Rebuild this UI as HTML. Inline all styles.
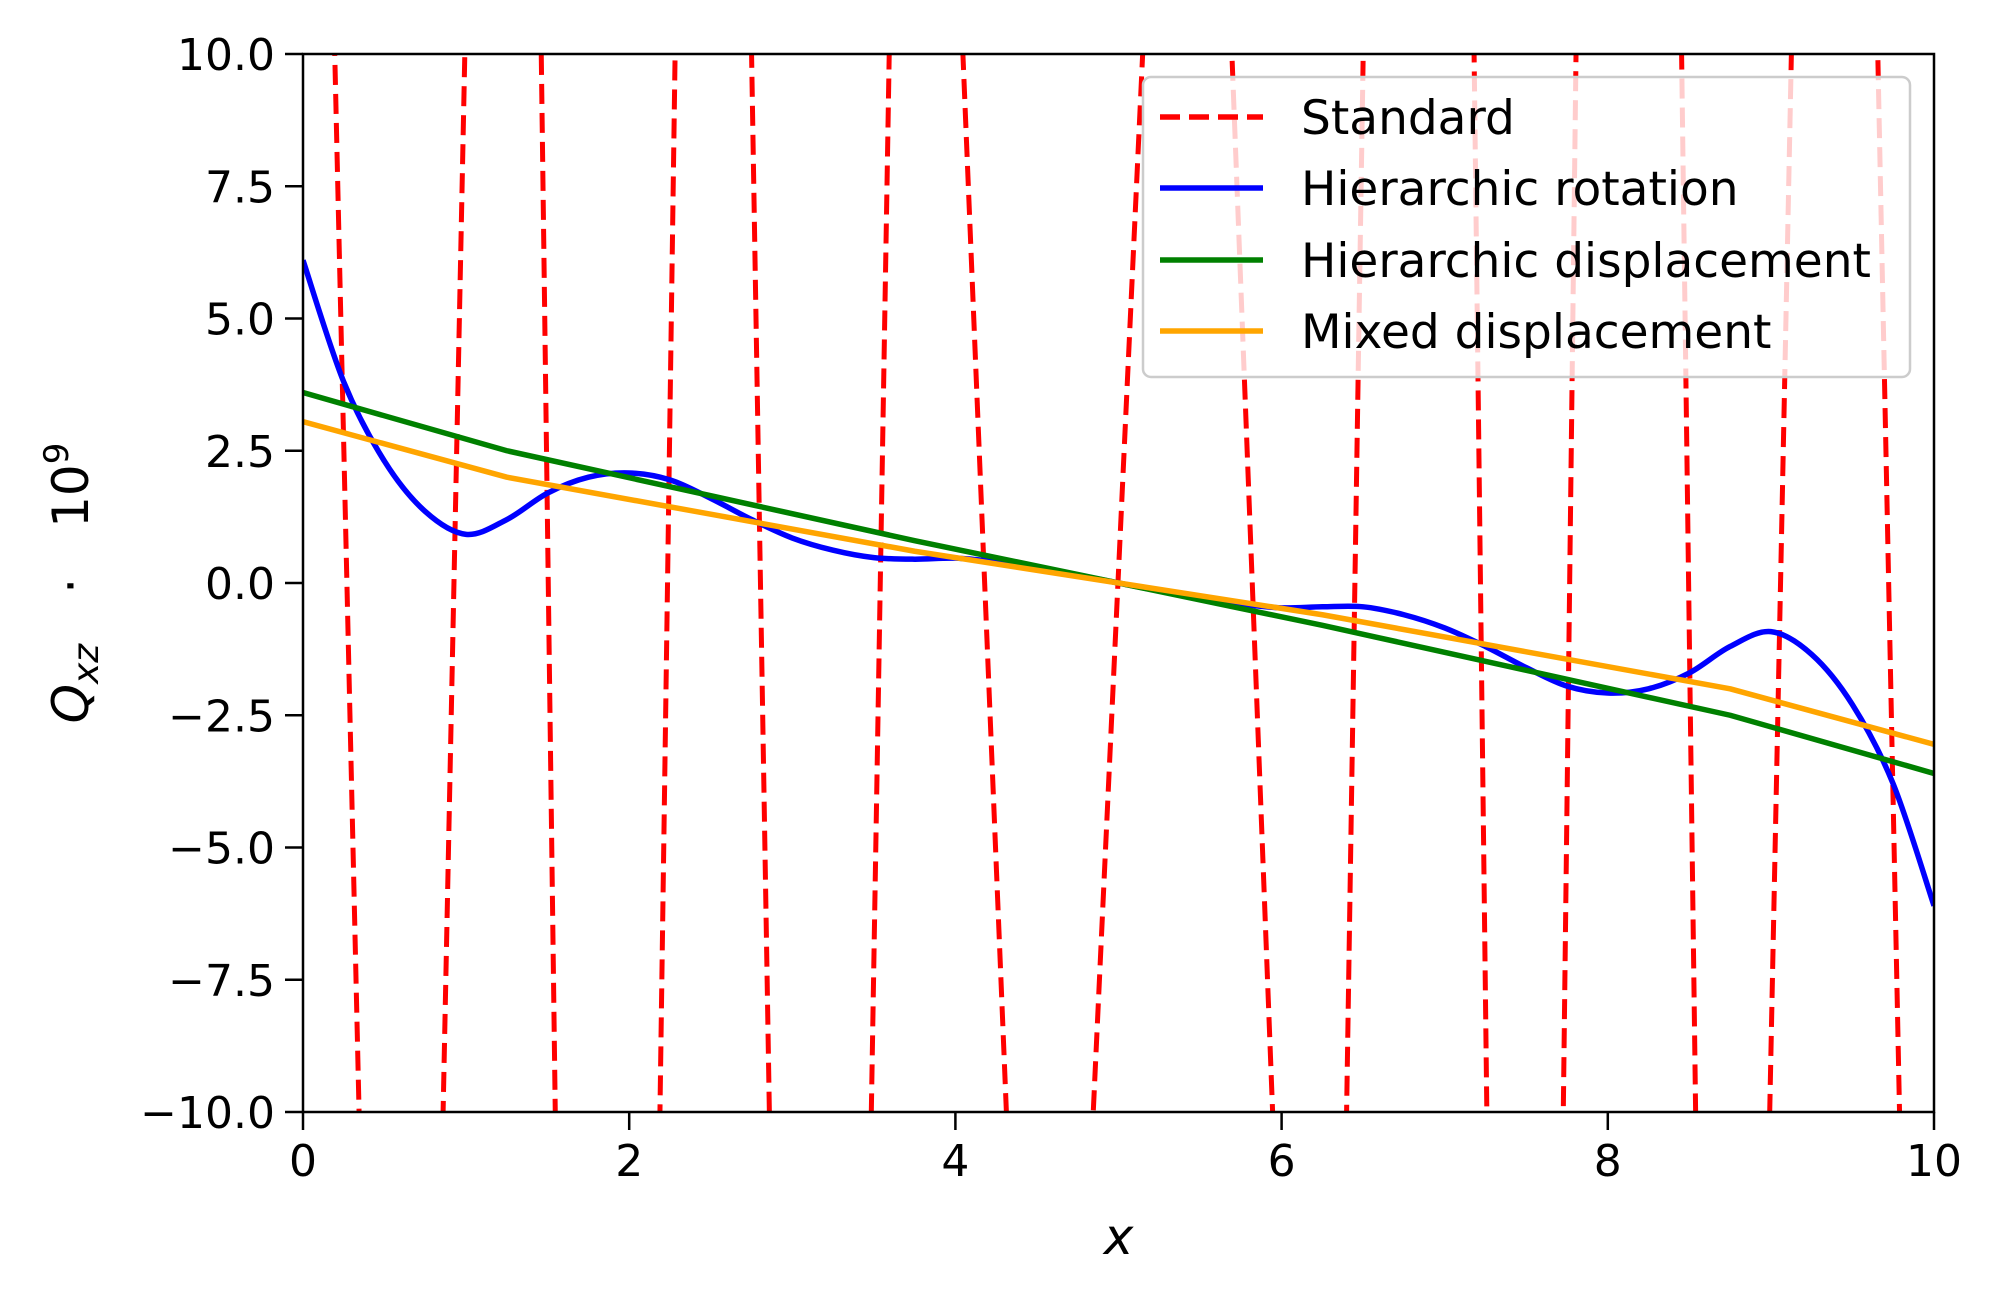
<!DOCTYPE html>
<html><head><meta charset="utf-8"><style>
html,body{margin:0;padding:0;background:#fff;width:2000px;height:1306px;overflow:hidden;}
svg{display:block;}
text{font-family:"DejaVu Sans","Liberation Sans",sans-serif;fill:#000;}
</style></head><body>
<svg id="chart" width="2000" height="1306" viewBox="0 0 2000 1306" xmlns="http://www.w3.org/2000/svg">
<rect x="0" y="0" width="2000" height="1306" fill="#fff"/>
<g id="series"></g>
<g id="axes"></g>
<g id="legend"></g>
</svg>
<script>
// ---- data ----
const xTicks = [0, 2, 4, 6, 8, 10];
const xTickLabels = ["0", "2", "4", "6", "8", "10"];
const yTicks = [10, 7.5, 5, 2.5, 0, -2.5, -5, -7.5, -10];
const yTickLabels = ["10.0", "7.5", "5.0", "2.5", "0.0", "\u22122.5", "\u22125.0", "\u22127.5", "\u221210.0"];

const standardX = [0, 0.616, 1.277, 1.855, 2.497, 3.171, 3.726, 4.562, 5.448, 6.267, 6.885, 7.493, 8.113, 8.717, 9.39, 10];
const standardY = [36.1, -46.5, 52.8, -81.8, 56.4, -67.1, 34.0, -28.7, 29.8, -35.8, 85.5, -70.0, 88.9, -51.5, 49.8, -41.7];

const rotationX = [0, 0.25, 0.5, 0.75, 1.0, 1.25, 1.5, 1.75, 2.0, 2.25, 2.5, 2.75, 3.0, 3.25, 3.5, 3.75, 4.0, 4.25, 4.5, 4.75, 5.0, 5.25, 5.5, 5.75, 6.0, 6.25, 6.5, 6.75, 7.0, 7.25, 7.5, 7.75, 8.0, 8.25, 8.5, 8.75, 9.0, 9.25, 9.5, 9.75, 10];
const rotationY = [6.1, 3.8, 2.3, 1.35, 0.92, 1.2, 1.7, 2.0, 2.08, 1.95, 1.6, 1.2, 0.85, 0.62, 0.48, 0.45, 0.47, 0.4, 0.3, 0.15, 0, -0.15, -0.3, -0.4, -0.47, -0.45, -0.45, -0.6, -0.85, -1.2, -1.6, -1.95, -2.08, -2.0, -1.7, -1.2, -0.92, -1.35, -2.3, -3.8, -6.1];

const hdispX = [0, 1.25, 2.5, 3.75, 5, 6.25, 7.5, 8.75, 10];
const hdispY = [3.6, 2.5, 1.65, 0.8, 0, -0.8, -1.65, -2.5, -3.6];

const mixedX = [0, 1.25, 2.5, 3.75, 5, 6.25, 7.5, 8.75, 10];
const mixedY = [3.05, 2.0, 1.3, 0.6, 0, -0.6, -1.3, -2.0, -3.05];

const legendLabels = ["Standard", "Hierarchic rotation", "Hierarchic displacement", "Mixed displacement"];

// ---- layout ----
const NS = "http://www.w3.org/2000/svg";
const L = 303, R = 1934, T = 54, B = 1112;
const xMin = 0, xMax = 10, yMin = -10, yMax = 10;
function sx(v){ return L + (v - xMin) / (xMax - xMin) * (R - L); }
function sy(v){ return B - (v - yMin) / (yMax - yMin) * (B - T); }
function mk(tag, attrs, parent){
  const e = document.createElementNS(NS, tag);
  for (const k in attrs) e.setAttribute(k, attrs[k]);
  parent.appendChild(e);
  return e;
}
const svg = document.getElementById('chart');
const defs = mk('defs', {}, svg);
const cp = mk('clipPath', {id: 'plotclip'}, defs);
mk('rect', {x: L, y: T, width: R - L, height: B - T}, cp);

const gS = document.getElementById('series');
gS.setAttribute('clip-path', 'url(#plotclip)');
function pathFrom(xs, ys){
  return xs.map((x, i) => (i ? 'L' : 'M') + sx(x).toFixed(2) + ',' + sy(ys[i]).toFixed(2)).join(' ');
}
function smoothFrom(xs, ys){
  const p = xs.map((x, i) => [sx(x), sy(ys[i])]);
  let d = 'M' + p[0][0].toFixed(2) + ',' + p[0][1].toFixed(2);
  for (let i = 0; i < p.length - 1; i++){
    const p0 = p[Math.max(0, i - 1)], p1 = p[i], p2 = p[i + 1], p3 = p[Math.min(p.length - 1, i + 2)];
    const c1 = [p1[0] + (p2[0] - p0[0]) / 6, p1[1] + (p2[1] - p0[1]) / 6];
    const c2 = [p2[0] - (p3[0] - p1[0]) / 6, p2[1] - (p3[1] - p1[1]) / 6];
    d += ' C' + c1[0].toFixed(2) + ',' + c1[1].toFixed(2) + ' ' + c2[0].toFixed(2) + ',' + c2[1].toFixed(2) + ' ' + p2[0].toFixed(2) + ',' + p2[1].toFixed(2);
  }
  return d;
}
const s1 = mk('path', {d: pathFrom(standardX, standardY), fill: 'none', stroke: '#ff0000', 'stroke-width': 5, 'stroke-dasharray': '20,9'}, gS);


const s2 = mk('path', {d: smoothFrom(rotationX, rotationY), fill: 'none', stroke: '#0000ff', 'stroke-width': 5.5, 'stroke-linejoin': 'round'}, gS);


const s3 = mk('path', {d: pathFrom(hdispX, hdispY), fill: 'none', stroke: '#008000', 'stroke-width': 5.5, 'stroke-linejoin': 'round'}, gS);


const s4 = mk('path', {d: pathFrom(mixedX, mixedY), fill: 'none', stroke: '#ffa500', 'stroke-width': 5.5, 'stroke-linejoin': 'round'}, gS);



// ---- axes ----
const gA = document.getElementById('axes');
const frame = mk('rect', {x: L, y: T, width: R - L, height: B - T, fill: 'none', stroke: '#000', 'stroke-width': 2.5}, gA);


xTicks.forEach((v, i) => {
  const t = mk('line', {x1: sx(v), x2: sx(v), y1: B, y2: B + 18, stroke: '#000', 'stroke-width': 2.5}, gA);
  
  
  const lb = mk('text', {x: sx(v), y: B + 64, 'font-size': 44, 'text-anchor': 'middle'}, gA);
  lb.textContent = xTickLabels[i];
  
  
});
yTicks.forEach((v, i) => {
  const t = mk('line', {x1: L - 18, x2: L, y1: sy(v), y2: sy(v), stroke: '#000', 'stroke-width': 2.5}, gA);
  
  
  const lb = mk('text', {x: L - 28, y: sy(v) + 16, 'font-size': 44, 'text-anchor': 'end'}, gA);
  lb.textContent = yTickLabels[i];
  
  
});
const xt = mk('text', {x: (L + R) / 2, y: 1254, 'font-size': 50, 'font-style': 'italic', 'text-anchor': 'middle'}, gA);
xt.textContent = 'x';


const yt = mk('text', {x: 0, y: 0, 'font-size': 50, 'text-anchor': 'middle', 'xml:space': 'preserve', transform: 'translate(88,' + ((T + B) / 2) + ') rotate(-90)'}, gA);
yt.innerHTML = '<tspan font-style="italic">Q</tspan><tspan font-style="italic" font-size="36" dy="10">xz</tspan><tspan dy="-10">\u2002\u2002\u00b7\u2002\u200210</tspan><tspan font-size="34" dy="-20">9</tspan>';



// ---- legend ----
const gL = document.getElementById('legend');
const lbx = mk('rect', {x: 1143, y: 77, width: 767, height: 300, rx: 8, fill: 'rgba(255,255,255,0.8)', stroke: '#cccccc', 'stroke-width': 2.5}, gL);


const legColors = ['#ff0000', '#0000ff', '#008000', '#ffa500'];
const legRows = [117, 188, 260, 331];
legendLabels.forEach((lab, i) => {
  const ln = mk('line', {x1: 1160, x2: 1263, y1: legRows[i], y2: legRows[i], stroke: legColors[i], 'stroke-width': 5.5}, gL);
  if (i === 0) ln.setAttribute('stroke-dasharray', '20,9');
  
  
  const tx = mk('text', {x: 1301, y: legRows[i] + 17, 'font-size': 47}, gL);
  tx.textContent = lab;
  
  
});
</script>
</body></html>
